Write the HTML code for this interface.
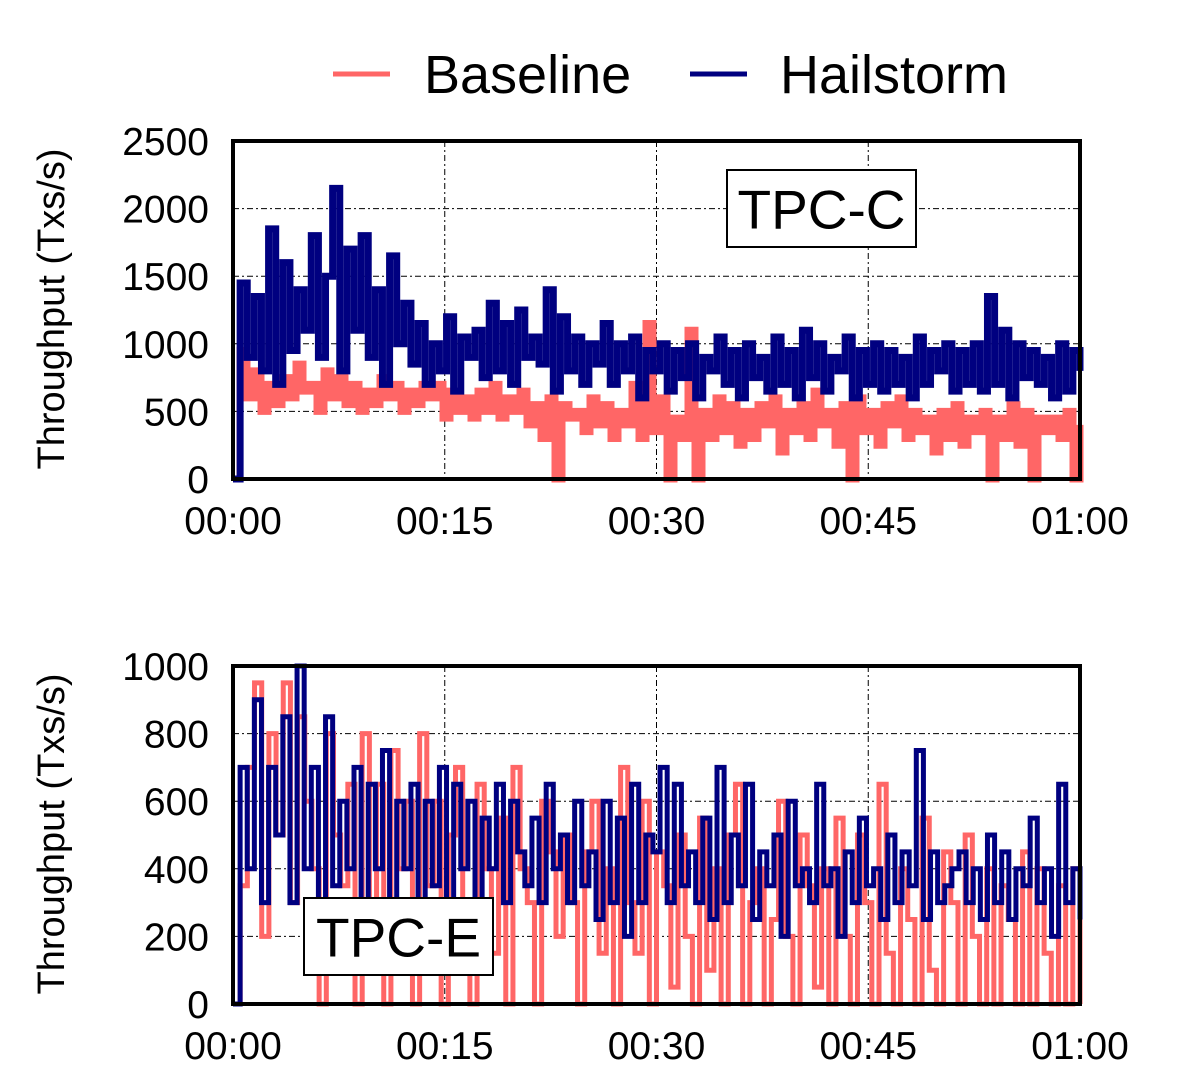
<!DOCTYPE html>
<html><head><meta charset="utf-8">
<style>
html,body{margin:0;padding:0;background:#fff;}
svg{display:block;font-family:"Liberation Sans",sans-serif;}
</style></head>
<body>
<svg id="chart" width="1188" height="1088" viewBox="0 0 1188 1088">
  <g>
    <line x1="333" y1="74" x2="390" y2="74" stroke="#ff6666" stroke-width="5"/>
    <text x="424" y="93" font-size="54">Baseline</text>
    <line x1="690" y1="74" x2="747" y2="74" stroke="#000080" stroke-width="5"/>
    <text x="780" y="93" font-size="54">Hailstorm</text>
  </g>
</svg>
<script>
const xTickLabels = ["00:00","00:15","00:30","00:45","01:00"];
const xTickValues = [0,15,30,45,60];
const topYTicks = [0,500,1000,1500,2000,2500];
const botYTicks = [0,200,400,600,800,1000];
const topHailstorm = [0,1450,900,1350,800,1850,700,1600,950,1400,1100,1800,900,1500,2150,800,1700,1100,1800,900,1400,700,1650,1000,1300,850,1150,700,1000,800,1200,650,1050,900,1100,750,1300,800,1150,700,1250,900,1050,850,1400,650,1200,800,1050,700,1000,850,1150,700,1000,800,1050,600,950,800,1000,650,950,750,1000,600,900,800,1050,700,950,600,1000,750,900,650,1050,700,950,600,1100,750,1000,650,900,800,1050,600,950,700,1000,650,950,700,900,600,1050,700,950,800,1000,650,950,700,1000,650,1350,700,1100,600,1000,750,950,700,900,600,1000,650,950,800];
const topBaseline = [0,950,600,800,500,700,550,750,600,850,650,700,500,800,600,750,550,700,500,650,550,750,600,700,500,650,550,700,600,700,450,650,500,600,450,650,500,700,450,600,500,650,400,550,300,600,0,550,450,500,350,600,400,550,300,500,400,700,300,1150,350,600,0,450,300,1100,0,500,300,600,350,550,250,500,300,550,400,600,200,500,350,550,300,650,400,500,250,550,0,600,350,500,250,550,400,600,300,500,350,450,200,500,300,550,250,450,350,500,0,450,300,550,250,500,0,450,350,450,300,500,0,400];
const botHailstorm = [0,700,400,900,300,700,500,850,300,1000,400,700,250,850,350,600,400,700,300,650,400,750,300,600,400,650,300,600,350,700,300,650,400,600,300,550,400,650,300,600,450,350,550,300,650,400,500,300,600,350,450,250,600,300,550,200,650,300,500,450,700,300,650,350,450,300,550,250,700,300,500,350,650,250,450,350,500,200,600,350,400,300,650,350,400,200,450,300,550,350,400,250,500,300,450,350,750,250,450,300,350,400,450,300,400,250,500,300,450,250,400,350,550,300,400,200,650,300,400,250];
const botBaseline = [0,350,700,950,200,800,500,950,300,850,600,400,0,800,500,350,650,0,800,300,650,0,750,400,600,0,800,350,600,0,500,700,300,0,650,400,150,550,0,700,400,300,0,600,450,200,500,300,0,450,600,150,400,0,700,300,150,600,0,450,350,50,500,200,0,550,100,400,0,500,650,0,300,400,0,250,600,200,0,500,350,50,400,0,550,200,0,500,300,0,650,150,0,400,250,0,550,100,0,450,300,0,500,200,0,400,0,350,250,0,450,0,400,150,0,350,0,400,0];

const svg = document.getElementById('chart');
const NS = 'http://www.w3.org/2000/svg';
function mk(tag, attrs){ const e=document.createElementNS(NS,tag); for(const k in attrs) e.setAttribute(k,attrs[k]); return e; }

function panel(name, top, bottom, yMax, yTicks, series, label, labelBox, sw){
  const L=233, R=1080;
  const xs = v => L + (v/60)*(R-L);
  const ys = v => bottom - (v/yMax)*(bottom-top);
  const g = mk('g',{});
  
  
  svg.appendChild(g);
  yTicks.forEach(t=>{
    if(t>0 && t<yMax){
      const l=mk('line',{x1:L,x2:R,y1:ys(t),y2:ys(t),stroke:'#000','stroke-width':1,'stroke-dasharray':'6 3 2 3'});
      
      
      g.appendChild(l);
    }
    const tx=mk('text',{x:L-24,y:ys(t)+14,'font-size':39,'text-anchor':'end'});
    tx.textContent=t;
    
    
    g.appendChild(tx);
  });
  xTickValues.forEach((t,i)=>{
    if(t>0 && t<60){
      const l=mk('line',{x1:xs(t),x2:xs(t),y1:top,y2:bottom,stroke:'#000','stroke-width':1,'stroke-dasharray':'6 3 2 3'});
      
      
      g.appendChild(l);
    }
    const tx=mk('text',{x:xs(t),y:bottom+55,'font-size':39,'text-anchor':'middle'});
    tx.textContent=xTickLabels[i];
    
    
    g.appendChild(tx);
  });
  series.forEach(s=>{
    const d=s.data, n=d.length;
    let p='';
    for(let i=0;i<n;i++){
      const x=xs(i*60/(n-1)), y=ys(d[i]);
      if(i===0) p+='M'+x+','+y; else p+='H'+x+'V'+y;
    }
    const path=mk('path',{d:p,fill:'none',stroke:s.color,'stroke-width':sw,'stroke-linejoin':'miter'});
    
    
    g.appendChild(path);
  });
  const fr=mk('rect',{x:L,y:top,width:R-L,height:bottom-top,fill:'none',stroke:'#000','stroke-width':4});
  
  
  g.appendChild(fr);
  const cy=(top+bottom)/2;
  const yt=mk('text',{x:0,y:0,'font-size':38,'text-anchor':'middle',transform:'translate(64,'+(cy-1)+') rotate(-90)'});
  yt.textContent='Throughput (Txs/s)';
  
  
  g.appendChild(yt);
  const bx=mk('rect',{x:labelBox[0],y:labelBox[1],width:labelBox[2],height:labelBox[3],fill:'#fff',stroke:'#000','stroke-width':2});
  
  
  g.appendChild(bx);
  const lt=mk('text',{x:labelBox[0]+labelBox[2]/2,y:labelBox[1]+labelBox[3]/2+20,'font-size':55,'text-anchor':'middle'});
  lt.textContent=label;
  
  
  g.appendChild(lt);
}
panel('tpcc-panel',141,479,2500,topYTicks,[
  {name:'baseline-line',color:'#ff6666',data:topBaseline},
  {name:'hailstorm-line',color:'#000080',data:topHailstorm}
],'TPC-C',[727,170,189,77],7);
panel('tpce-panel',666,1004,1000,botYTicks,[
  {name:'baseline-line',color:'#ff6666',data:botBaseline},
  {name:'hailstorm-line',color:'#000080',data:botHailstorm}
],'TPC-E',[304,898,189,77],5);
</script>
</body></html>
